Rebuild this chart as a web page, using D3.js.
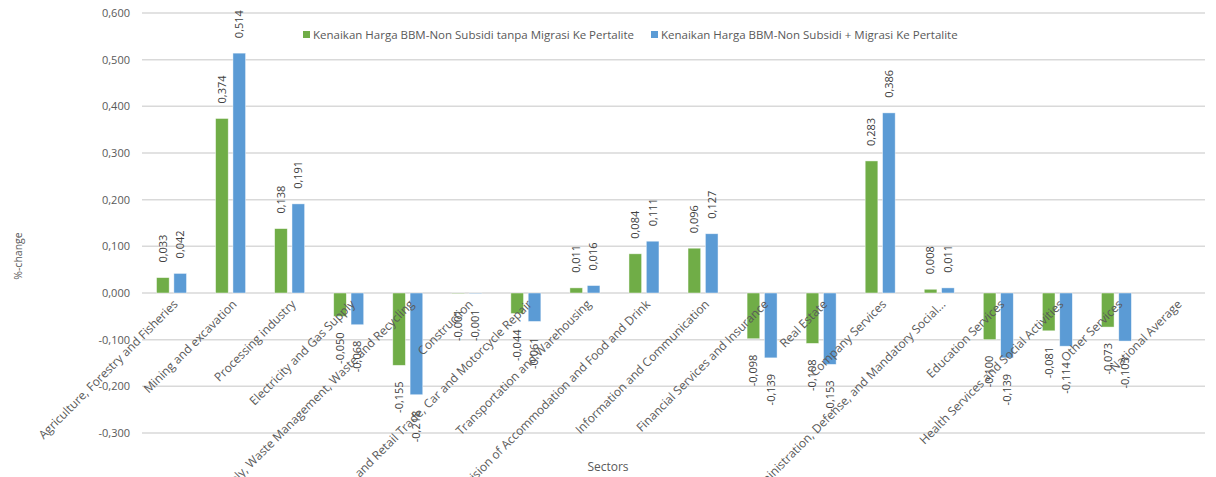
<!DOCTYPE html>
<html>
<head>
<meta charset="utf-8">
<script src="https://cdn.jsdelivr.net/npm/d3@7"></script>
<style>
    body { margin: 0; background: #fff; }
    text { font-family: "Open Sans", sans-serif; fill: #595959; }
</style>
</head>
<body>
<div id="chart"></div>
<script>
// sectors and the two scenarios (%-change)
var sectors = [
    "Agriculture, Forestry and Fisheries",
    "Mining and excavation",
    "Processing industry",
    "Electricity and Gas Supply",
    "Water Supply, Waste Management, Waste and Recycling",
    "Construction",
    "Wholesale and Retail Trade, Car and Motorcycle Repair",
    "Transportation and Warehousing",
    "Provision of Accommodation and Food and Drink",
    "Information and Communication",
    "Financial Services and Insurance",
    "Real Estate",
    "Company Services",
    "Government Administration, Defense, and Mandatory Social...",
    "Education Services",
    "Health Services and Social Activities",
    "Other Services",
    "National Average"
];
var tanpaMigrasi = [0.033, 0.374, 0.138, -0.050, -0.155, -0.001, -0.044, 0.011, 0.084, 0.096,
    -0.098, -0.108, 0.283, 0.008, -0.100, -0.081, -0.073, null];
var denganMigrasi = [0.042, 0.514, 0.191, -0.068, -0.218, -0.001, -0.061, 0.016, 0.111, 0.127,
    -0.139, -0.153, 0.386, 0.011, -0.139, -0.114, -0.103, null];
var seriesNames = [
    "Kenaikan Harga BBM-Non Subsidi tanpa Migrasi Ke Pertalite",
    "Kenaikan Harga BBM-Non Subsidi + Migrasi Ke Pertalite"
];
var seriesColors = ["#70ad47", "#5b9bd5"];
var yTicks = [-0.3, -0.2, -0.1, 0, 0.1, 0.2, 0.3, 0.4, 0.5, 0.6];

var width = 1216, height = 477;
var plot = {left: 142, right: 1205, top: 13, bottom: 433};

var locale = d3.formatLocale({decimal: ",", thousands: ".", grouping: [3], currency: ["", ""], minus: "-"});
var fmt = locale.format(".3f");

var svg = d3.select("#chart").append("svg")
    .attr("width", width)
    .attr("height", height);

// scales
var x = d3.scaleBand().domain(sectors).range([plot.left, plot.right]);
var y = d3.scaleLinear().domain([-0.3, 0.6]).range([plot.bottom, plot.top]);
var xSub = d3.scaleBand().domain([0, 1]).range([-15, 15]).paddingInner(0.27);

// gridlines
svg.append("g")
    .selectAll("line")
    .data(yTicks)
    .enter().append("line")
    .attr("x1", plot.left)
    .attr("x2", plot.right)
    .attr("y1", function (d) { return y(d); })
    .attr("y2", function (d) { return y(d); })
    .attr("stroke", "#d9d9d9")
    .attr("stroke-width", 1.5);

// y axis labels
var yAxis = svg.append("g")
    .attr("transform", "translate(" + (plot.left - 12) + ",0)")
    .call(d3.axisLeft(y).tickValues(yTicks).tickFormat(fmt).tickSize(0).tickPadding(0));
yAxis.select(".domain").remove();
yAxis.selectAll("text")
    .style("font-size", "11px")
    .style("font-family", "'Open Sans', sans-serif")
    .attr("fill", "#595959");

// bars
var groups = [tanpaMigrasi, denganMigrasi];
groups.forEach(function (vals, s) {
    var data = sectors.map(function (name, i) { return {name: name, v: vals[i]}; })
        .filter(function (d) { return d.v !== null; });
    var cx = function (d) { return x(d.name) + x.bandwidth() / 2 + xSub(s); };

    svg.append("g").selectAll("rect")
        .data(data)
        .enter().append("rect")
        .attr("x", cx)
        .attr("width", xSub.bandwidth())
        .attr("y", function (d) { return y(Math.max(0, d.v)); })
        .attr("height", function (d) { return Math.abs(y(d.v) - y(0)); })
        .attr("fill", seriesColors[s])
        .attr("stroke", "#ffffff")
        .attr("stroke-opacity", 0.6)
        .attr("stroke-width", 0.75);

    // data labels, rotated
    svg.append("g").selectAll("text")
        .data(data)
        .enter().append("text")
        .attr("transform", function (d) {
            var ty = d.v >= 0 ? y(d.v) - 15 : y(d.v) + 16;
            return "translate(" + (cx(d) + xSub.bandwidth() / 2) + "," + ty + ") rotate(-90)";
        })
        .attr("dy", "0.35em")
        .style("text-anchor", function (d) { return d.v >= 0 ? "start" : "end"; })
        .style("font-size", "11px")
        .style("fill", "#404040")
        .text(function (d) { return fmt(d.v); });
});

// category labels
svg.append("g").selectAll("text")
    .data(sectors)
    .enter().append("text")
    .attr("transform", function (d) {
        return "translate(" + (x(d) + x.bandwidth() / 2 + 4) + "," + (y(0) + 9) + ") rotate(-45)";
    })
    .attr("dy", "0.35em")
    .style("text-anchor", "end")
    .style("font-size", "12px")
    .text(function (d) { return d; });

// axis titles
svg.append("text")
    .attr("transform", "translate(18,256) rotate(-90)")
    .attr("dy", "0.35em")
    .style("text-anchor", "middle")
    .style("font-size", "10.5px")
    .text("%-change");

svg.append("text")
    .attr("x", 608)
    .attr("y", 471)
    .style("text-anchor", "middle")
    .style("font-size", "12px")
    .text("Sectors");

// legend
var legendPos = [303, 651];
seriesNames.forEach(function (name, i) {
    svg.append("rect")
        .attr("x", legendPos[i])
        .attr("y", 31)
        .attr("width", 7)
        .attr("height", 7)
        .attr("fill", seriesColors[i]);
    svg.append("text")
        .attr("x", legendPos[i] + 10)
        .attr("y", 34.5)
        .attr("dy", "0.35em")
        .style("font-size", "11.5px")
        .text(name);
});
</script>
</body>
</html>
